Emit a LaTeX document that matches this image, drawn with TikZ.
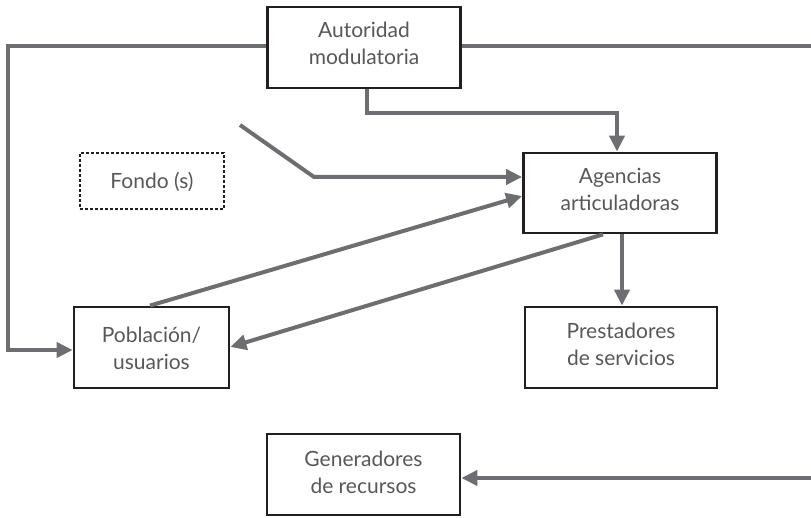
\documentclass[tikz,border=0pt]{standalone}
\usepackage{fontspec}
\setmainfont{Lato}
\usetikzlibrary{arrows.meta,calc}
\definecolor{lineg}{HTML}{6D6E71}
\definecolor{boxk}{HTML}{231F20}
\definecolor{txt}{HTML}{58585A}
\begin{document}
\begin{tikzpicture}[x=1pt,y=-1pt,
  boxn/.style={draw=boxk,line width=2.8pt,fill=white,rectangle,inner sep=0pt},
  txtn/.style={inner sep=0pt,align=center,text=txt,font=\fontsize{21}{27}\selectfont},
  conn/.style={draw=lineg,line width=4pt},
  arr/.style={conn,-{Triangle[length=16pt,width=15pt]}}]
\useasboundingbox (0,0) rectangle (811,518);
% boxes
\node[boxn,minimum width=193pt,minimum height=81pt] (auth) at (364,47.5) {};
\node[boxn,dashed,line width=2pt,dash pattern=on 3pt off 2pt,minimum width=144pt,minimum height=56pt] (fondo) at (152,181) {};
\node[boxn,minimum width=193pt,minimum height=80pt] (agen) at (620,193) {};
\node[boxn,minimum width=155pt,minimum height=81pt] (pobl) at (151.5,347.5) {};
\node[boxn,minimum width=192pt,minimum height=81pt] (prest) at (621,347.5) {};
\node[boxn,minimum width=193pt,minimum height=81pt] (gen) at (363.5,474.5) {};
% texts
\node[txtn] (auth-t) at ([yshift=4pt]auth.center) {Autoridad\\modulatoria};
\node[txtn] (fondo-t) at ([yshift=-1pt]fondo.center) {Fondo (s)};
\node[txtn] (agen-t) at ([yshift=4pt]agen.center) {Agencias\\articuladoras};
\node[txtn] (pobl-t) at ([yshift=-1pt]pobl.center) {Población/\\usuarios};
\node[txtn] (prest-t) at ([yshift=3pt]prest.center) {Prestadores\\de servicios};
\node[txtn] (gen-t) at ([yshift=2pt]gen.center) {Generadores\\de recursos};
% free ends
\coordinate (rtop) at (811,46);
\coordinate (rbot) at (811,478);
\coordinate (fstart) at (240,125);
% connectors
\draw[arr] (auth.west |- 0,46) -- (8,46) -- (8,350) -- (pobl.west |- 0,350);
\draw[conn] (auth.east |- 0,46) -- (rtop);
\draw[arr] (rbot) -- (gen.east |- rbot);
\draw[arr] (auth.south -| 367,0) -- (367,113) -- (617,113) -- (agen.north -| 617,0);
\draw[arr] (fstart) -- (314,177) -- (agen.west |- 0,177);
\draw[arr] (pobl.north -| 150,0) -- (agen.west |- 0,196);
\draw[arr] (agen.south -| 603,0) -- (pobl.east |- 0,347);
\draw[arr] (agen.south -| 622,0) -- (prest.north -| 622,0);
\end{tikzpicture}
\end{document}
